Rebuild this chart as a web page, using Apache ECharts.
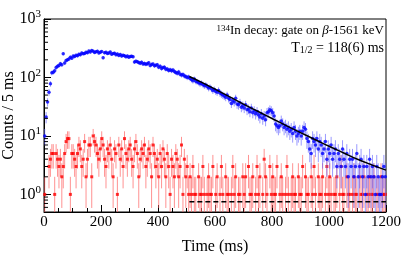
<!DOCTYPE html>
<html><head><meta charset="utf-8">
<script src="https://cdn.jsdelivr.net/npm/echarts@6/dist/echarts.min.js"></script>
<style>html,body{margin:0;padding:0;background:#fff}#c{width:415px;height:258px}</style>
</head><body><div id="c"></div>
<script>
// ---- data ----
const binWidth = 5; // ms
const blueCounts = [
  10, 21, 38, 56, 78, 120, 123, 130, 148, 155,
  160, 172, 165, 255, 176, 195, 200, 206, 222, 214,
  232, 228, 240, 236, 250, 245, 262, 255, 258, 270,
  266, 284, 272, 290, 280, 268, 276, 282, 262, 270,
  278, 218, 264, 270, 258, 262, 272, 250, 256, 260,
  244, 252, 238, 248, 232, 240, 236, 226, 232, 222,
  228, 230, 226, 184, 190, 186, 180, 175, 182, 170,
  174, 168, 172, 178, 160, 166, 170, 158, 162, 165,
  150, 156, 142, 148, 150, 138, 140, 132, 136, 130,
  134, 126, 122, 118, 124, 114, 110, 112, 106, 104,
  100, 102, 96, 92, 88, 94, 86, 84, 82, 78,
  80, 76, 72, 74, 70, 66, 68, 64, 60, 62,
  58, 56, 60, 54, 52, 50, 48, 46, 50, 44,
  42, 36, 40, 38, 44, 35, 34, 37, 31, 33,
  30, 34, 28, 29, 26, 30, 25, 27, 24, 26,
  23, 21, 24, 20, 22, 19, 25, 26, 28, 27,
  25, 22, 16, 15, 14, 15, 18, 16, 14, 15,
  13, 14, 12, 13, 11, 14, 12, 10, 11, 12,
  10, 12, 14, 13, 9, 8, 6, 5, 9, 8,
  7, 9, 6, 8, 7, 5, 6, 8, 4, 6,
  5, 7, 4, 5, 6, 3, 5, 4, 3, 6,
  4, 3, 5, 2, 4, 3, 4, 2, 3, 5,
  2, 3, 4, 2, 3, 1, 3, 2, 4, 2,
  3, 2, 1, 3, 2, 1, 1, 2, 3, 2
];
const redCounts = [
  1, 0, 0, 3, 4, 5, 5, 1, 5, 4,
  3, 4, 2, 3, 5, 8, 9, 9, 1, 5,
  5, 4, 3, 5, 7, 6, 3, 4, 8, 2,
  4, 7, 7, 2, 10, 8, 7, 5, 4, 6,
  9, 7, 4, 3, 6, 5, 7, 4, 2, 6,
  5, 1, 7, 4, 6, 3, 9, 5, 4, 6,
  7, 4, 3, 6, 8, 5, 2, 4, 6, 5,
  7, 3, 4, 6, 5, 2, 7, 5, 3, 4,
  2, 5, 3, 6, 4, 2, 5, 3, 1, 4,
  3, 2, 5, 4, 2, 3, 7, 1, 4, 2,
  3, 1, 2, 1, 3, 1, 1, 0, 2, 1,
  1, 3, 1, 0, 1, 2, 1, 1, 3, 0,
  1, 2, 0, 1, 3, 1, 0, 2, 1, 1,
  0, 1, 3, 1, 2, 0, 1, 1, 0, 2,
  1, 2, 0, 3, 1, 1, 2, 0, 1, 3,
  1, 2, 0, 1, 4, 2, 1, 0, 3, 1,
  2, 1, 1, 3, 0, 1, 2, 1, 0, 1,
  3, 1, 0, 1, 2, 1, 1, 0, 2, 1,
  1, 3, 0, 2, 1, 1, 0, 2, 1, 3,
  1, 0, 2, 1, 1, 2, 0, 1, 3, 1,
  2, 1, 0, 1, 1, 2, 0, 1, 3, 1,
  1, 0, 2, 1, 1, 0, 1, 2, 1, 1,
  0, 2, 1, 1, 2, 0, 1, 1, 2, 1,
  1, 2, 0, 1, 1, 0, 2, 1, 1, 1
];
const fitCurve = [
  [510, 104], [550, 84], [600, 63], [650, 47], [700, 35], [750, 26.4], [800, 19.9],
  [850, 15.0], [900, 11.4], [950, 8.7], [1000, 6.65], [1050, 5.15], [1100, 4.0],
  [1150, 3.2], [1200, 2.6]
];
const bgLine = [[510, 0.75], [1200, 0.75]];
const xRange = [0, 1200];
const yRange = [0.5, 1000];
const xTickStep = 200;

// ---- derived tables ----
function points(arr) {
  const out = [];
  arr.forEach((v, i) => { if (v > 0) out.push([i * binWidth + binWidth / 2, v]); });
  return out;
}
function errBars(arr) {
  const out = [];
  arr.forEach((v, i) => {
    if (v > 0) {
      const e = Math.sqrt(v);
      out.push([i * binWidth + binWidth / 2, Math.max(v - e, yRange[0]), v + e]);
    }
  });
  return out;
}
const minorLogTicks = [];
for (let k = -1; k <= 2; k++) for (let m = 2; m <= 9; m++) {
  const v = m * Math.pow(10, k);
  if (v > yRange[0] && v < yRange[1]) minorLogTicks.push([xRange[0], v]);
}

const serif = "'Liberation Serif','Times New Roman',serif";
const chart = echarts.init(document.getElementById('c'), null, { renderer: 'canvas' });

function errRender(color) {
  return function (params, api) {
    const p1 = api.coord([api.value(0), api.value(1)]);
    const p2 = api.coord([api.value(0), api.value(2)]);
    return { type: 'line', shape: { x1: p1[0], y1: p1[1], x2: p2[0], y2: p2[1] },
      style: { stroke: color, lineWidth: 1 } };
  };
}

chart.setOption({
  animation: false,
  backgroundColor: '#fff',
  grid: { left: 44, right: 29, top: 19, bottom: 46, show: true, borderColor: '#000', borderWidth: 1,
    backgroundColor: 'transparent', containLabel: false, outerBoundsMode: 'none' },
  xAxis: {
    type: 'value', min: xRange[0], max: xRange[1], interval: xTickStep,
    name: 'Time (ms)', nameLocation: 'middle', nameGap: 27, nameMoveOverlap: false,
    nameTextStyle: { fontFamily: serif, fontSize: 16, color: '#000' },
    axisLine: { show: true, lineStyle: { color: '#000', width: 1 } },
    axisTick: { show: true, inside: true, length: 7, lineStyle: { color: '#000' } },
    minorTick: { show: true, splitNumber: 4, length: 4, lineStyle: { color: '#000' } },
    splitLine: { show: false }, minorSplitLine: { show: false },
    axisLabel: { fontFamily: serif, fontSize: 15, color: '#000', margin: 3,
      formatter: function (v) { return String(v); } }
  },
  yAxis: {
    type: 'log', logBase: 10, min: yRange[0], max: yRange[1],
    name: 'Counts / 5 ms', nameLocation: 'middle', nameGap: 27, nameMoveOverlap: false,
    nameTextStyle: { fontFamily: serif, fontSize: 16, color: '#000' },
    axisLine: { show: true, lineStyle: { color: '#000', width: 1 } },
    axisTick: { show: true, inside: true, length: 7, lineStyle: { color: '#000' } },
    splitLine: { show: false },
    axisLabel: {
      margin: 3, color: '#000',
      formatter: function (v) {
        const l = Math.log10(v);
        if (Math.abs(l - Math.round(l)) > 1e-6) return '';
        return '{b|10}{s|' + Math.round(l) + '}';
      },
      rich: {
        b: { fontFamily: serif, fontSize: 16, color: '#000', lineHeight: 20 },
        s: { fontFamily: serif, fontSize: 11, color: '#000', verticalAlign: 'top', lineHeight: 12 }
      }
    }
  },
  graphic: [
    { type: 'text', x: 384, y: 31, style: {
      text: '{sup|134}In decay: gate on {it|β}-1561 keV', align: 'right', verticalAlign: 'middle',
      fontFamily: serif, fontSize: 13, fill: '#000',
      rich: { sup: { fontFamily: serif, fontSize: 9, verticalAlign: 'top', lineHeight: 10, fill: '#000' },
              it: { fontFamily: serif, fontSize: 13, fontStyle: 'italic', fill: '#000' } } } },
    { type: 'text', x: 384, y: 48, style: {
      text: 'T{sub|1/2} = 118(6) ms', align: 'right', verticalAlign: 'middle',
      fontFamily: serif, fontSize: 14, fill: '#000',
      rich: { sub: { fontFamily: serif, fontSize: 10, verticalAlign: 'bottom', lineHeight: 10, fill: '#000' } } } }
  ],
  series: [
    { type: 'custom', name: 'redErr', data: errBars(redCounts), renderItem: errRender('rgba(255,100,100,0.7)'), clip: true, z: 1, silent: true },
    { type: 'scatter', name: 'red', data: points(redCounts), symbol: 'rect', symbolSize: 3,
      itemStyle: { color: '#ff0000' }, z: 2, silent: true },
    { type: 'custom', name: 'blueErr', data: errBars(blueCounts), renderItem: errRender('rgba(100,100,255,0.65)'), clip: true, z: 3, silent: true },
    { type: 'scatter', name: 'blue', data: points(blueCounts), symbol: 'circle', symbolSize: 3.5,
      itemStyle: { color: '#0000ff' }, z: 4, silent: true },
    { type: 'line', name: 'fit', data: fitCurve, smooth: true, showSymbol: false, symbol: 'none',
      lineStyle: { color: '#000', width: 1.5 }, z: 5, silent: true },
    { type: 'line', name: 'bg', data: bgLine, showSymbol: false, symbol: 'none',
      lineStyle: { color: '#000', width: 1.5, type: [5, 3] }, z: 5, silent: true },
    { type: 'custom', name: 'minorTicks', data: minorLogTicks, silent: true, z: 6,
      renderItem: function (params, api) {
        const p = api.coord([api.value(0), api.value(1)]);
        return { type: 'line', shape: { x1: p[0], y1: p[1], x2: p[0] + 4, y2: p[1] },
          style: { stroke: '#000', lineWidth: 1 } };
      } }
  ]
});
</script></body></html>
